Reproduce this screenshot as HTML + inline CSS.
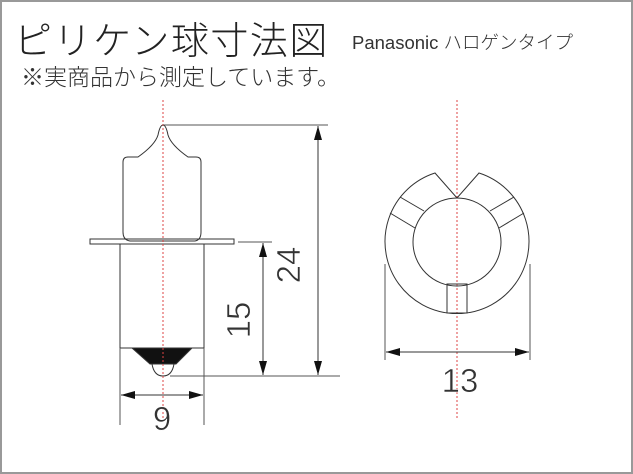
<!DOCTYPE html>
<html><head><meta charset="utf-8"><style>
body{margin:0;width:633px;height:474px;overflow:hidden;background:#fff}
.f{position:absolute;left:0;top:0;width:629px;height:470px;border:2px solid #999}
.t{position:absolute;font-family:"Liberation Sans","Noto Sans CJK JP",sans-serif;color:#222;white-space:nowrap;font-weight:300}
</style></head><body>
<div class="f"></div>
<div class="t" style="left:14px;top:10px;font-size:38px;letter-spacing:1.5px">ピリケン球寸法図</div>
<div class="t" style="left:352px;top:29px;font-size:18.5px;color:#333">Panasonic ハロゲンタイプ</div>
<div class="t" style="left:21px;top:58px;font-size:23px;color:#333">※実商品から測定しています。</div>
<svg width="633" height="474" style="position:absolute;left:0;top:0" fill="none" stroke="#333" stroke-width="1">
<defs><marker id="a" markerWidth="14" markerHeight="8" refX="14" refY="4" orient="auto" markerUnits="userSpaceOnUse"><path d="M0,0L14,4L0,8z" fill="#111" stroke="none"/></marker></defs>
<path d="M123,162 Q123,157 128,157 L138,157 Q155,145 158,135 Q160,125 163,125 Q166,125 168,135 Q171,145 188,157 L196,157 Q201,157 201,162 L201,232 Q201,240 195,241 L130,241 Q123,240 123,232 Z"/>
<rect x="90" y="239" width="144" height="5"/>
<rect x="120" y="244" width="84" height="104"/>
<path d="M132,348 L192,348 L176,364 L150,364 Z" fill="#111"/>
<path d="M152,364 Q154,376 163,376 Q172,376 174,364" />
<line x1="163" y1="100" x2="163" y2="420" stroke="#d44" stroke-dasharray="2,2"/>
<line x1="457" y1="100" x2="457" y2="420" stroke="#d44" stroke-dasharray="2,2"/>
<line x1="163" y1="125" x2="328" y2="125" stroke="#555"/>
<line x1="238" y1="242" x2="272" y2="242" stroke="#555"/>
<line x1="170" y1="376" x2="340" y2="376" stroke="#555"/>
<line x1="318" y1="250" x2="318" y2="126" marker-end="url(#a)"/>
<line x1="318" y1="250" x2="318" y2="375" marker-end="url(#a)"/>
<line x1="263" y1="310" x2="263" y2="243" marker-end="url(#a)"/>
<line x1="263" y1="310" x2="263" y2="375" marker-end="url(#a)"/>
<line x1="120" y1="348" x2="120" y2="425" stroke="#555"/>
<line x1="204" y1="348" x2="204" y2="425" stroke="#555"/>
<line x1="162" y1="395" x2="121" y2="395" marker-end="url(#a)"/>
<line x1="162" y1="395" x2="203" y2="395" marker-end="url(#a)"/>
<path d="M435,173 A72,72 0 1 0 479,173 L457,198 Z"/>
<circle cx="457" cy="242" r="44"/>
<line x1="400" y1="197" x2="424" y2="211"/>
<line x1="390" y1="213" x2="415" y2="228"/>
<line x1="514" y1="197" x2="490" y2="211"/>
<line x1="524" y1="213" x2="499" y2="228"/>
<rect x="447" y="284" width="20" height="29"/>
<line x1="385" y1="264" x2="385" y2="360" stroke="#555"/>
<line x1="530" y1="264" x2="530" y2="360" stroke="#555"/>
<line x1="457" y1="352" x2="386" y2="352" marker-end="url(#a)"/>
<line x1="457" y1="352" x2="529" y2="352" marker-end="url(#a)"/>
<g fill="#333" stroke="#fff" stroke-width="0.6" font-family="Liberation Sans,sans-serif" font-size="33">
<text x="162" y="430" text-anchor="middle">9</text>
<text x="460" y="392" text-anchor="middle">13</text>
<text transform="translate(300,265) rotate(-90)" text-anchor="middle">24</text>
<text transform="translate(250,320) rotate(-90)" text-anchor="middle">15</text>
</g>
</svg>
</body></html>
